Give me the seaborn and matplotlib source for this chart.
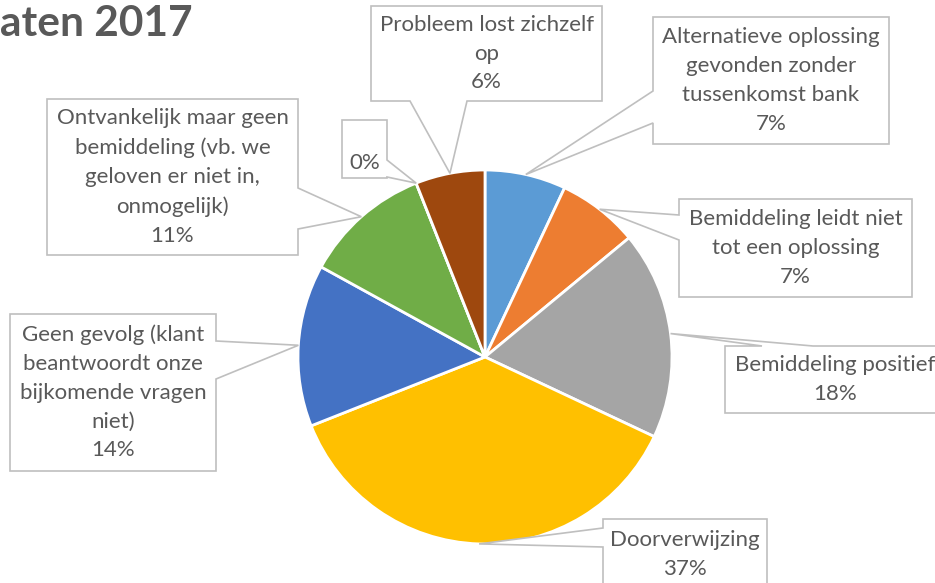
import numpy as np
import matplotlib.pyplot as plt
import seaborn as sns
from matplotlib.patches import Polygon

# slices, clockwise from 12 o'clock
categories = [
    "Alternatieve oplossing\ngevonden zonder\ntussenkomst bank",
    "Bemiddeling leidt niet\ntot een oplossing",
    "Bemiddeling positief",
    "Doorverwijzing",
    "Geen gevolg (klant\nbeantwoordt onze\nbijkomende vragen\nniet)",
    "Ontvankelijk maar geen\nbemiddeling (vb. we\ngeloven er niet in,\nonmogelijk)",
    "",
    "Probleem lost zichzelf\nop",
]
values = [7, 7, 18, 37, 14, 11, 0, 6]
colors = ["#5B9BD5", "#ED7D31", "#A5A5A5", "#FFC000",
          "#4472C4", "#70AD47", "#264478", "#9E480E"]

# callout boxes in pixels from top-left: (x0, y0, x1, y1), side of pointer, pointer base
boxes = [
    ((653, 17, 889, 144), "left", (91, 123)),
    ((679, 199, 912, 297), "left", (215, 240)),
    ((725, 346, 945, 413), "top", (762, 813)),
    ((603, 519, 767, 590), "left", (528, 547)),
    ((10, 314, 216, 471), "right", (341, 379)),
    ((47, 99, 298, 255), "right", (188, 229)),
    ((342, 120, 387, 178), "right", (160, 177)),
    ((371, 6, 602, 101), "bottom", (410, 467)),
]

W, H = 935, 583
sns.set_theme(style="white")
plt.rcParams["font.family"] = ["Lato", "DejaVu Sans"]
text_color = "#595959"

fig = plt.figure(figsize=(W / 100, H / 100), dpi=100)
ax = fig.add_axes([0, 0, 1, 1])

cx, cy, r = 485, H - 357, 187
wedges, _ = ax.pie(values, colors=colors, startangle=90, counterclock=False,
                   center=(cx, cy), radius=r, frame=True,
                   wedgeprops=dict(edgecolor="white", linewidth=2))
ax.set_xlim(0, W)
ax.set_ylim(0, H)
ax.set_aspect("equal")
ax.axis("off")


def callout(box, side, base, tip):
    x0, y0, x1, y1 = box
    y0, y1 = H - y0, H - y1  # flip to data coords (y0 top, y1 bottom)
    if side == "left":
        b1, b2 = H - base[0], H - base[1]
        pts = [(x0, y0), (x1, y0), (x1, y1), (x0, y1), (x0, b2), tip, (x0, b1)]
    elif side == "right":
        b1, b2 = H - base[0], H - base[1]
        pts = [(x0, y0), (x1, y0), (x1, b1), tip, (x1, b2), (x1, y1), (x0, y1)]
    elif side == "top":
        pts = [(x0, y0), (base[0], y0), tip, (base[1], y0), (x1, y0), (x1, y1), (x0, y1)]
    else:
        pts = [(x0, y0), (x1, y0), (x1, y1), (base[1], y1), tip, (base[0], y1), (x0, y1)]
    ax.add_patch(Polygon(pts, closed=True, facecolor="white", edgecolor="#BFBFBF",
                         linewidth=1.2, zorder=3))
    return (x0 + x1) / 2, (y0 + y1) / 2


for w, cat, val, (box, side, base) in zip(wedges, categories, values, boxes):
    mid = np.deg2rad((w.theta1 + w.theta2) / 2)
    tip = (cx + r * np.cos(mid), cy + r * np.sin(mid))
    tx, ty = callout(box, side, base, tip)
    ax.text(tx, ty, f"{cat}\n{val}%", ha="center", va="center", multialignment="center",
            fontsize=16, color=text_color, linespacing=1.55, zorder=4)

ax.text(0, H - 24, "aten 2017", ha="left", va="center", fontsize=30.5,
        fontweight="bold", color=text_color)

fig.savefig("out.png", dpi=100)
